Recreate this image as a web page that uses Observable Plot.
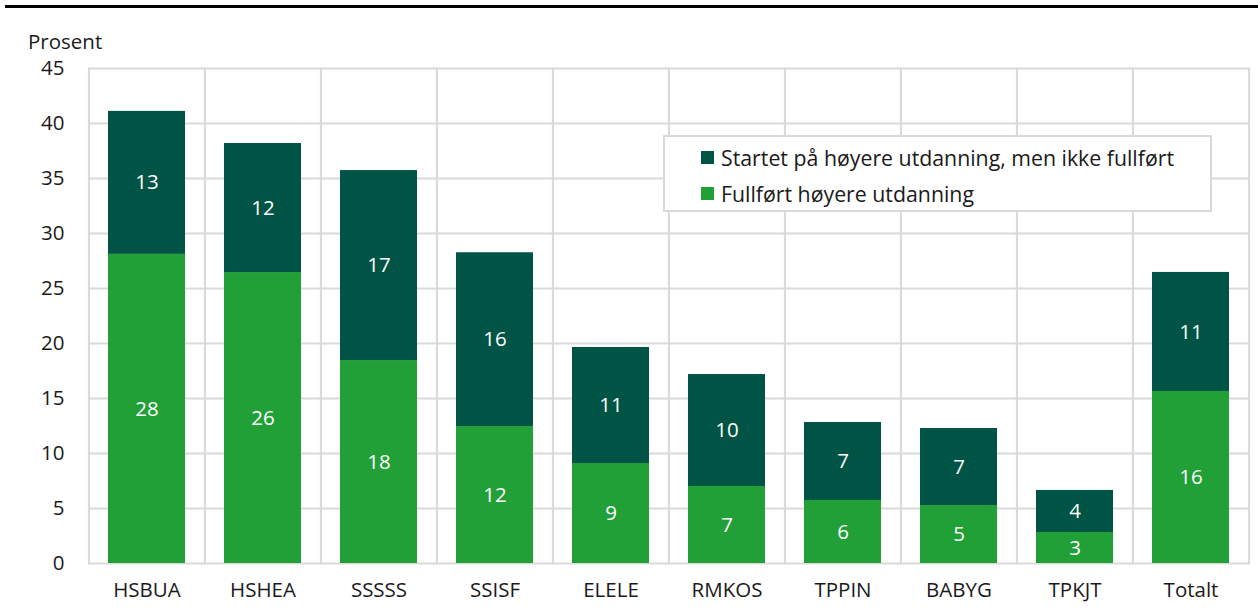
<!DOCTYPE html>
<html>
<head>
<meta charset="utf-8">
<script src="https://cdn.jsdelivr.net/npm/d3@7"></script>
<script src="https://cdn.jsdelivr.net/npm/@observablehq/plot@0.6"></script>
<style>
  html, body { margin: 0; padding: 0; background: #fff; }
  body { font-family: "Open Sans", "Noto Sans", sans-serif; }
  #wrap { position: relative; width: 1258px; height: 615px; overflow: hidden; }
  #topline { position: absolute; left: 5px; right: 0; top: 5px; height: 3px; background: #000; }
  #unit { position: absolute; left: 28px; top: 27px; font-size: 20.5px; color: #1a1a1a; }
  #legend { position: absolute; left: 663px; top: 135px; width: 545px; height: 73px; border: 2px solid #d9d9d9; background: #fff; }
  .item { position: absolute; left: 36px; font-size: 21.3px; color: #1a1a1a; display: flex; align-items: center; white-space: nowrap; }
  .sw { width: 13px; height: 13px; margin-right: 7px; display: inline-block; }
  #chart { position: absolute; left: 0; top: 0; }
</style>
</head>
<body>
<div id="wrap">
  <div id="chart"></div>
  <div id="topline"></div>
  <div id="unit">Prosent</div>
  <div id="legend"></div>
</div>
<script>
const categories = ["HSBUA", "HSHEA", "SSSSS", "SSISF", "ELELE", "RMKOS", "TPPIN", "BABYG", "TPKJT", "Totalt"];
const fullfort = [28.1, 26.45, 18.45, 12.45, 9.09, 7.0, 5.73, 5.27, 2.82, 15.64];
const startet = [13.0, 11.73, 17.27, 15.8, 10.55, 10.18, 7.09, 7.0, 3.82, 10.82];
const seriesNames = ["Fullført høyere utdanning", "Startet på høyere utdanning, men ikke fullført"];
const seriesColors = ["#21a038", "#005445"];
const yTicks = [0, 5, 10, 15, 20, 25, 30, 35, 40, 45];

const data = [];
categories.forEach((c, i) => {
  data.push({cat: c, series: seriesNames[0], value: fullfort[i]});
  data.push({cat: c, series: seriesNames[1], value: startet[i]});
});

const W = 1258, H = 615;
const mL = 88, mR = 8, mT = 68, mB = 52;
const step = (W - mL - mR) / categories.length;

const plot = Plot.plot({
  width: W,
  height: H,
  marginLeft: mL,
  marginRight: mR,
  marginTop: mT,
  marginBottom: mB,
  style: {fontFamily: "'Open Sans', 'Noto Sans', sans-serif", fontSize: "20.5px", color: "#1a1a1a", background: "transparent"},
  x: {domain: categories, paddingInner: 0.335, paddingOuter: 0.1675, label: null},
  y: {domain: [0, 45], ticks: yTicks, label: null},
  color: {domain: seriesNames, range: seriesColors},
  marks: [
    Plot.gridY(yTicks, {stroke: "#d9d9d9", strokeOpacity: 1, strokeWidth: 2}),
    Plot.ruleX(categories, {x: d => d, dx: -step / 2, stroke: "#d9d9d9", strokeWidth: 2}),
    Plot.ruleX(categories.slice(-1), {x: d => d, dx: step / 2, stroke: "#d9d9d9", strokeWidth: 2}),
    Plot.barY(data, {x: "cat", y: "value", fill: "series", z: "series", order: null}),
    Plot.text(data, Plot.stackY({x: "cat", y: "value", z: "series", order: null, text: d => String(Math.round(d.value)), fill: "#fff", fontSize: 20.5})),
    Plot.axisX({tickSize: 0, tickPadding: 19, fontSize: 20.5, label: null}),
    Plot.axisY({ticks: yTicks, tickSize: 0, tickPadding: 24, fontSize: 20.5, label: null})
  ]
});
document.getElementById("chart").appendChild(plot);

const legend = document.getElementById("legend");
[[1, 6], [0, 42]].forEach(([idx, top]) => {
  const item = document.createElement("div");
  item.className = "item";
  item.style.top = top + "px";
  const sw = document.createElement("span");
  sw.className = "sw";
  sw.style.background = seriesColors[idx];
  item.appendChild(sw);
  item.appendChild(document.createTextNode(seriesNames[idx]));
  legend.appendChild(item);
});
</script>
</body>
</html>
